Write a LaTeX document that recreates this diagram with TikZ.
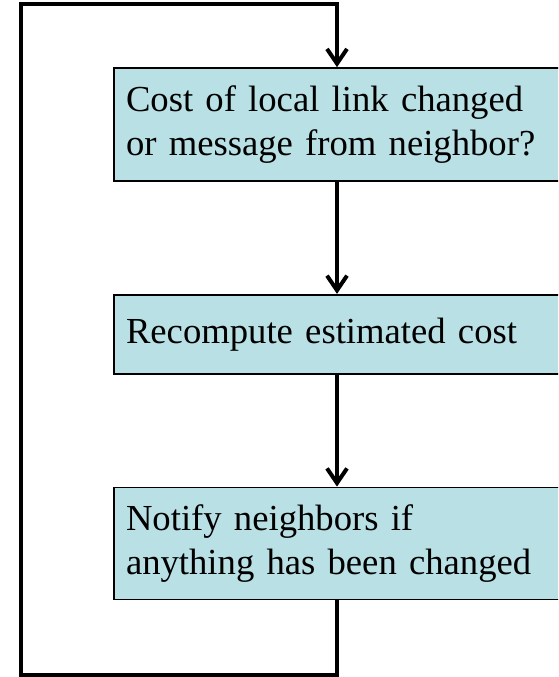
\documentclass[tikz,border=0pt]{standalone}
\usepackage{fontspec}
\setmainfont{Liberation Serif}
\usetikzlibrary{positioning,arrows.meta}

\definecolor{boxblue}{RGB}{185,224,228}

\tikzset{
  stepbox/.style={draw,line width=1.3pt,fill=boxblue,minimum width=334.5pt,
    text width=316.5pt,inner xsep=9pt,align=left,
    font=\fontsize{27.5}{33}\selectfont},
  flow/.style={line width=3pt,-{Straight Barb[length=11pt,width=15pt]}}
}

\begin{document}
\begin{tikzpicture}[x=0.75pt,y=-0.75pt,node distance=84pt]
    \clip (0,0) rectangle (558,677);
    \node[stepbox,minimum height=84.75pt] (s_check) at (337,124.5)
        {Cost of local link changed\\or message from neighbor?};
    \node[stepbox,minimum height=59.25pt] (s_recompute) [below=of s_check]
        {Recompute estimated cost};
    \node[stepbox,minimum height=84pt] (s_notify) [below=of s_recompute]
        {Notify neighbors if\\anything has been changed};
    \coordinate (c_low) at (21,675);
    \coordinate (c_high) at (21,4);
    \path[flow]
    (s_check)     edge (s_recompute)
    (s_recompute) edge (s_notify);
    % back to the top
    \draw[flow,line join=miter] (s_notify.south) |- (c_low) -- (c_high) -| (s_check.north);
  \end{tikzpicture}
\end{document}
